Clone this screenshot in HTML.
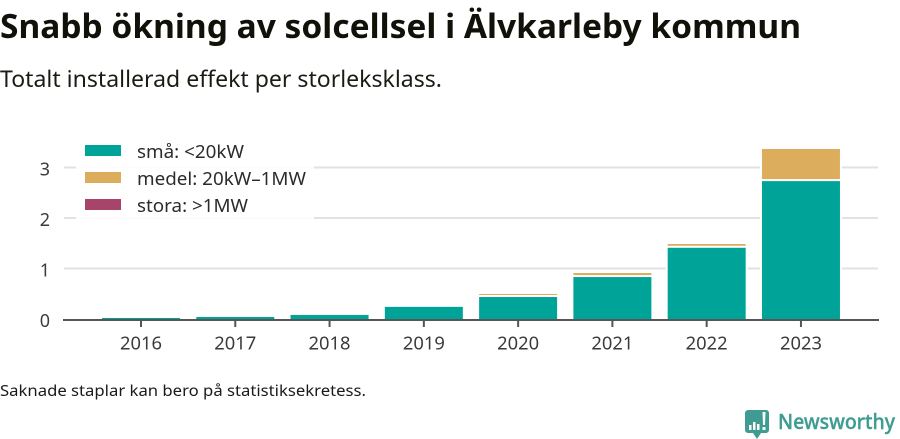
<!DOCTYPE html>
<html lang="sv">
<head>
<meta charset="utf-8">
<title>Snabb ökning av solcellsel i Älvkarleby kommun</title>
<style>
html,body{margin:0;padding:0;background:#fff;width:900px;height:439px;overflow:hidden}
svg{display:block}
text{font-family:"Noto Sans","DejaVu Sans","Liberation Sans",sans-serif}
</style>
</head>
<body>
<svg id="chart" xmlns="http://www.w3.org/2000/svg" width="900" height="439" viewBox="0 0 900 439">
  <text x="0" y="38" font-size="33" font-weight="700" fill="#10120a" textLength="801" lengthAdjust="spacingAndGlyphs">Snabb ökning av solcellsel i Älvkarleby kommun</text>
  <text x="0" y="87" font-size="22.500" fill="#1a1c14" textLength="442" lengthAdjust="spacingAndGlyphs">Totalt installerad effekt per storleksklass.</text>
  <g id="grid"></g>
  <g id="bars"></g>
  <g id="axes"></g>
  <g>
    <rect x="76" y="135" width="238" height="84" fill="#fff" fill-opacity="0.88"/>
    <g>
      <rect x="85" y="145" width="36" height="11" fill="#00a398"/>
      <text x="137" y="158" font-size="18" fill="#2b2b2b" textLength="107" lengthAdjust="spacingAndGlyphs">små: &lt;20kW</text>
    </g>
    <g>
      <rect x="85" y="172" width="36" height="11" fill="#dcad5c"/>
      <text x="137" y="185" font-size="18" fill="#2b2b2b" textLength="169" lengthAdjust="spacingAndGlyphs">medel: 20kW–1MW</text>
    </g>
    <g>
      <rect x="85" y="199" width="36" height="11" fill="#a6446a"/>
      <text x="137" y="212" font-size="18" fill="#2b2b2b" textLength="111" lengthAdjust="spacingAndGlyphs">stora: &gt;1MW</text>
    </g>
  </g>
  <text x="0" y="396" font-size="15.500" fill="#1a1a1a" textLength="366" lengthAdjust="spacingAndGlyphs">Saknade staplar kan bero på statistiksekretess.</text>
  <g>
    <path d="M748 410h18a3 3 0 0 1 3 3v17a3 3 0 0 1-3 3h-5l-4 6-4-6h-5a3 3 0 0 1-3-3v-17a3 3 0 0 1 3-3z" fill="#3f9c92"/>
    <path d="M749 425h2.500v5H749zM753 422h2.500v8H753zM757 424h2.500v6H757zM762.500 412h3l-.5 13h-2zM762.500 427h3v3h-3z" fill="#fff"/>
    <text x="778" y="429" font-size="21" font-weight="500" fill="#3f9c92" stroke="#3f9c92" stroke-width="0.4" textLength="117" lengthAdjust="spacingAndGlyphs">Newsworthy</text>
  </g>
</svg>
<script>
const years = ['2016', '2017', '2018', '2019', '2020', '2021', '2022', '2023'];
const smallValues = [0.04, 0.06, 0.10, 0.26, 0.455, 0.85, 1.43, 2.75];
const mediumValues = [0, 0, 0, 0, 0.06, 0.08, 0.075, 0.636];
const largeValues = [0, 0, 0, 0, 0, 0, 0, 0];
const yTicks = [0, 1, 2, 3];

const NS = 'http://www.w3.org/2000/svg';
const xScale = function (i) { return 141 + i * 94.28; };
const yScale = function (v) { return 320 - v * 50.5; };
const BAR_WIDTH = 78;

function make(tag, attrs, parent) {
  const el = document.createElementNS(NS, tag);
  Object.keys(attrs).forEach(function (k) { el.setAttribute(k, attrs[k]); });
  parent.appendChild(el);
  return el;
}

const grid = document.getElementById('grid');
const bars = document.getElementById('bars');
const axes = document.getElementById('axes');

yTicks.forEach(function (t) {
  if (t !== 0) {
    const line = make('line', { x1: 64, x2: 878, y1: yScale(t) - 1, y2: yScale(t) - 1, stroke: '#e2e2e2', 'stroke-width': 2 }, grid);
    
    
  }
  const label = make('text', { x: 50, y: yScale(t) + 7, 'text-anchor': 'end', 'font-size': 18, fill: '#3a3a3a' }, axes);
  label.textContent = String(t);
  
  
});

function drawSegment(x, bottom, value, color) {
  if (value <= 0) return;
  const top = bottom + value;
  const r = make('rect', {
    x: x - BAR_WIDTH / 2, y: yScale(top), width: BAR_WIDTH, height: yScale(bottom) - yScale(top),
    fill: color, stroke: '#fff', 'stroke-width': 4, 'paint-order': 'stroke'
  }, bars);
  
  
}

years.forEach(function (year, i) {
  const x = xScale(i);
  const s = smallValues[i], m = mediumValues[i], l = largeValues[i];
  drawSegment(x, s + m, l, '#a6446a');
  drawSegment(x, s, m, '#dcad5c');
  drawSegment(x, 0, s, '#00a398');

  const tick = make('line', { x1: x, x2: x, y1: 320, y2: 327, stroke: '#555', 'stroke-width': 2 }, axes);
  
  

  const label = make('text', { x: x, y: 349.5, 'text-anchor': 'middle', 'font-size': 18, fill: '#3a3a3a', textLength: 42, lengthAdjust: 'spacingAndGlyphs' }, axes);
  label.textContent = year;
  
  
});

const axisLine = make('line', { x1: 63, x2: 879, y1: 320, y2: 320, stroke: '#555', 'stroke-width': 2 }, axes);


</script>
</body>
</html>
